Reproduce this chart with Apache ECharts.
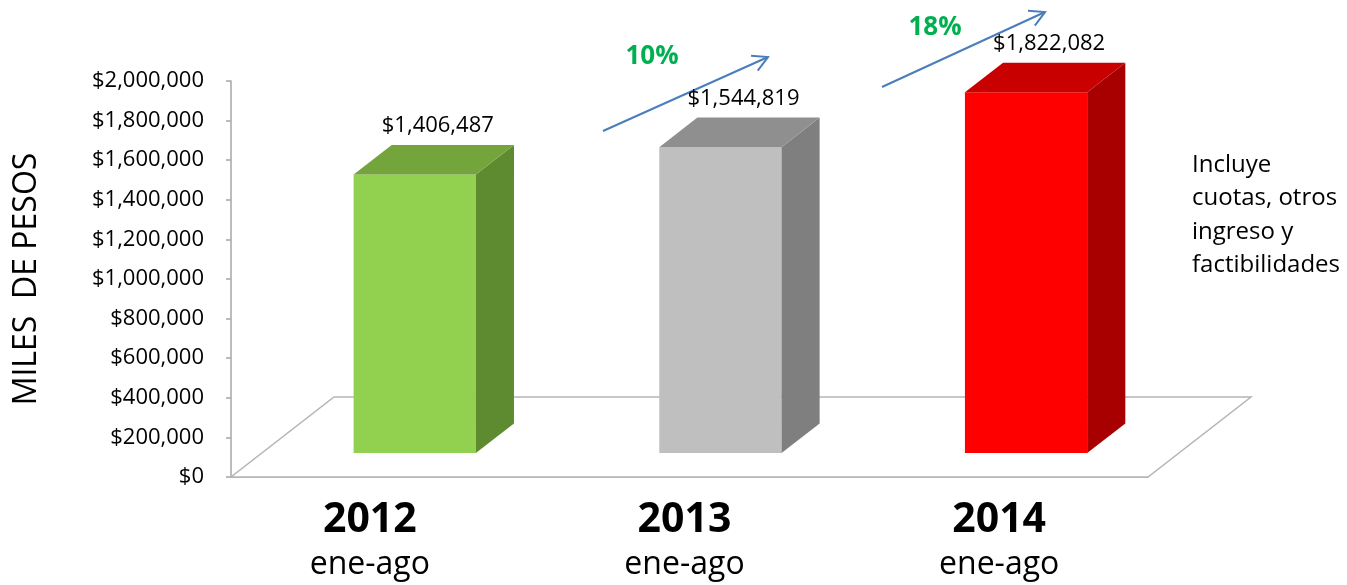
<!DOCTYPE html>
<html>
<head>
<meta charset="utf-8">
<title>Ingresos ene-ago</title>
<script src="https://cdn.jsdelivr.net/npm/echarts@6/dist/echarts.min.js"></script>
<style>
  html, body { margin: 0; padding: 0; background: #fff; }
  #chart { width: 1347px; height: 585px; }
</style>
</head>
<body>
<div id="chart"></div>
<script>
// datos
var years = ['2012', '2013', '2014'];
var periodo = 'ene-ago';
var ingresos = [1406487, 1544819, 1822082];

// estilo de las barras 3D (frente, arriba, lado)
var barColors = [
  { front: '#92d050', top: '#74a43c', side: '#5f8b30' },
  { front: '#bfbfbf', top: '#8f8f8f', side: '#7f7f7f' },
  { front: '#ff0000', top: '#c80000', side: '#a80000' }
];
var DEPTH_X = 103, DEPTH_Y = 80;   // profundidad del piso en px
var D0 = 0.3, D1 = 0.67;           // frente / fondo de las barras

function money(v) {
  return '$' + Math.round(v).toLocaleString('en-US');
}

function renderFloor(params, api) {
  var cs = params.coordSys;
  var y0 = api.coord([0, 0])[1];
  var x0 = cs.x, x1 = cs.x + cs.width;
  return {
    type: 'polygon',
    shape: { points: [[x0, y0], [x1, y0], [x1 + DEPTH_X, y0 - DEPTH_Y], [x0 + DEPTH_X, y0 - DEPTH_Y]] },
    style: { fill: '#fff', stroke: '#b5b5b5', lineWidth: 1.5 }
  };
}

function renderBar(params, api) {
  var i = api.value(0);
  var v = api.value(1);
  var base = api.coord([i, 0]);
  var top = api.coord([i, v]);
  var w = api.size([1, 0])[0] * 0.4;
  var fx = base[0] + DEPTH_X * D0 - w / 2;
  var fy0 = base[1] - DEPTH_Y * D0;
  var fy1 = top[1] - DEPTH_Y * D0;
  var ddx = DEPTH_X * (D1 - D0), ddy = DEPTH_Y * (D1 - D0);
  var c = barColors[i];
  return {
    type: 'group',
    children: [
      { type: 'rect', shape: { x: fx, y: fy1, width: w, height: fy0 - fy1 }, style: { fill: c.front } },
      { type: 'polygon', shape: { points: [[fx + w, fy1], [fx + w + ddx, fy1 - ddy], [fx + w + ddx, fy0 - ddy], [fx + w, fy0]] }, style: { fill: c.side } },
      { type: 'polygon', shape: { points: [[fx, fy1], [fx + ddx, fy1 - ddy], [fx + w + ddx, fy1 - ddy], [fx + w, fy1]] }, style: { fill: c.top } },
      { type: 'text', style: { text: money(v), x: fx + w / 2 + ddx / 2 + 4, y: fy1 - ddy - 8, align: 'center', verticalAlign: 'bottom', fontSize: 22, fontFamily: 'Open Sans', fill: '#000' } }
    ]
  };
}

function arrow(x1, y1, x2, y2) {
  var a = Math.atan2(y2 - y1, x2 - x1), L = 17, s = 0.5;
  var p1 = [x2 - L * Math.cos(a - s), y2 - L * Math.sin(a - s)];
  var p2 = [x2 - L * Math.cos(a + s), y2 - L * Math.sin(a + s)];
  return {
    type: 'group',
    children: [
      { type: 'line', shape: { x1: x1, y1: y1, x2: x2, y2: y2 }, style: { stroke: '#4a7ebb', lineWidth: 2 } },
      { type: 'polyline', shape: { points: [p1, [x2, y2], p2] }, style: { stroke: '#4a7ebb', lineWidth: 2, fill: null } }
    ]
  };
}

function pct(i) {
  return Math.round((ingresos[i] / ingresos[i - 1] - 1) * 100) + '%';
}

var labelShift = [-14, -5, 4];
var rich = {};
years.forEach(function (y, i) {
  var pad = labelShift[i] < 0 ? [0, -2 * labelShift[i], 0, 0] : [0, 0, 0, 2 * labelShift[i]];
  rich['y' + i] = { fontSize: 41, fontWeight: 'bold', fontFamily: 'Open Sans', color: '#000', lineHeight: 46, padding: pad };
  rich['s' + i] = { fontSize: 32, fontFamily: 'Open Sans', color: '#000', lineHeight: 44, padding: pad };
});

var chart = echarts.init(document.getElementById('chart'));
chart.setOption({
  animation: false,
  textStyle: { fontFamily: 'Open Sans' },
  grid: { left: 231, right: 199, top: 81, bottom: 108 },
  xAxis: {
    type: 'category',
    data: years,
    axisLine: { lineStyle: { color: '#a6a6a6', width: 1.5 } },
    axisTick: { length: 7, lineStyle: { color: '#a6a6a6', width: 1.5 } },
    axisLabel: {
      margin: 20,
      formatter: function (v, i) { return '{y' + i + '|' + v + '}\n{s' + i + '|' + periodo + '}'; },
      rich: rich
    }
  },
  yAxis: {
    type: 'value',
    min: 0,
    max: 2000000,
    interval: 200000,
    name: 'MILES  DE PESOS',
    nameLocation: 'middle',
    nameRotate: 90,
    nameGap: 188,
    nameTextStyle: { fontSize: 32, color: '#000', fontFamily: 'Open Sans' },
    splitLine: { show: false },
    axisLine: { show: true, lineStyle: { color: '#a6a6a6', width: 1.5 } },
    axisTick: { show: true, length: 5, lineStyle: { color: '#a6a6a6', width: 1.5 } },
    axisLabel: { margin: 27, fontSize: 22, color: '#000', formatter: money }
  },
  series: [
    {
      type: 'custom',
      silent: true,
      renderItem: renderFloor,
      data: [[0, 0]],
      z: 1
    },
    {
      type: 'custom',
      renderItem: renderBar,
      encode: { x: 0, y: 1 },
      data: ingresos.map(function (v, i) { return [i, v]; }),
      z: 2
    }
  ],
  graphic: [
    arrow(603, 131, 768, 57),
    arrow(882, 87, 1045, 12),
    { type: 'text', style: { text: pct(1), x: 652, y: 57, align: 'center', verticalAlign: 'middle', fontSize: 26, fontWeight: 'bold', fontFamily: 'Open Sans', fill: '#00b050' } },
    { type: 'text', style: { text: pct(2), x: 935, y: 28, align: 'center', verticalAlign: 'middle', fontSize: 26, fontWeight: 'bold', fontFamily: 'Open Sans', fill: '#00b050' } },
    { type: 'text', style: { text: 'Incluye\ncuotas, otros\ningreso y\nfactibilidades', x: 1192, y: 148, fontSize: 24, lineHeight: 33.5, fontFamily: 'Open Sans', fill: '#000' } }
  ]
});
</script>
</body>
</html>
